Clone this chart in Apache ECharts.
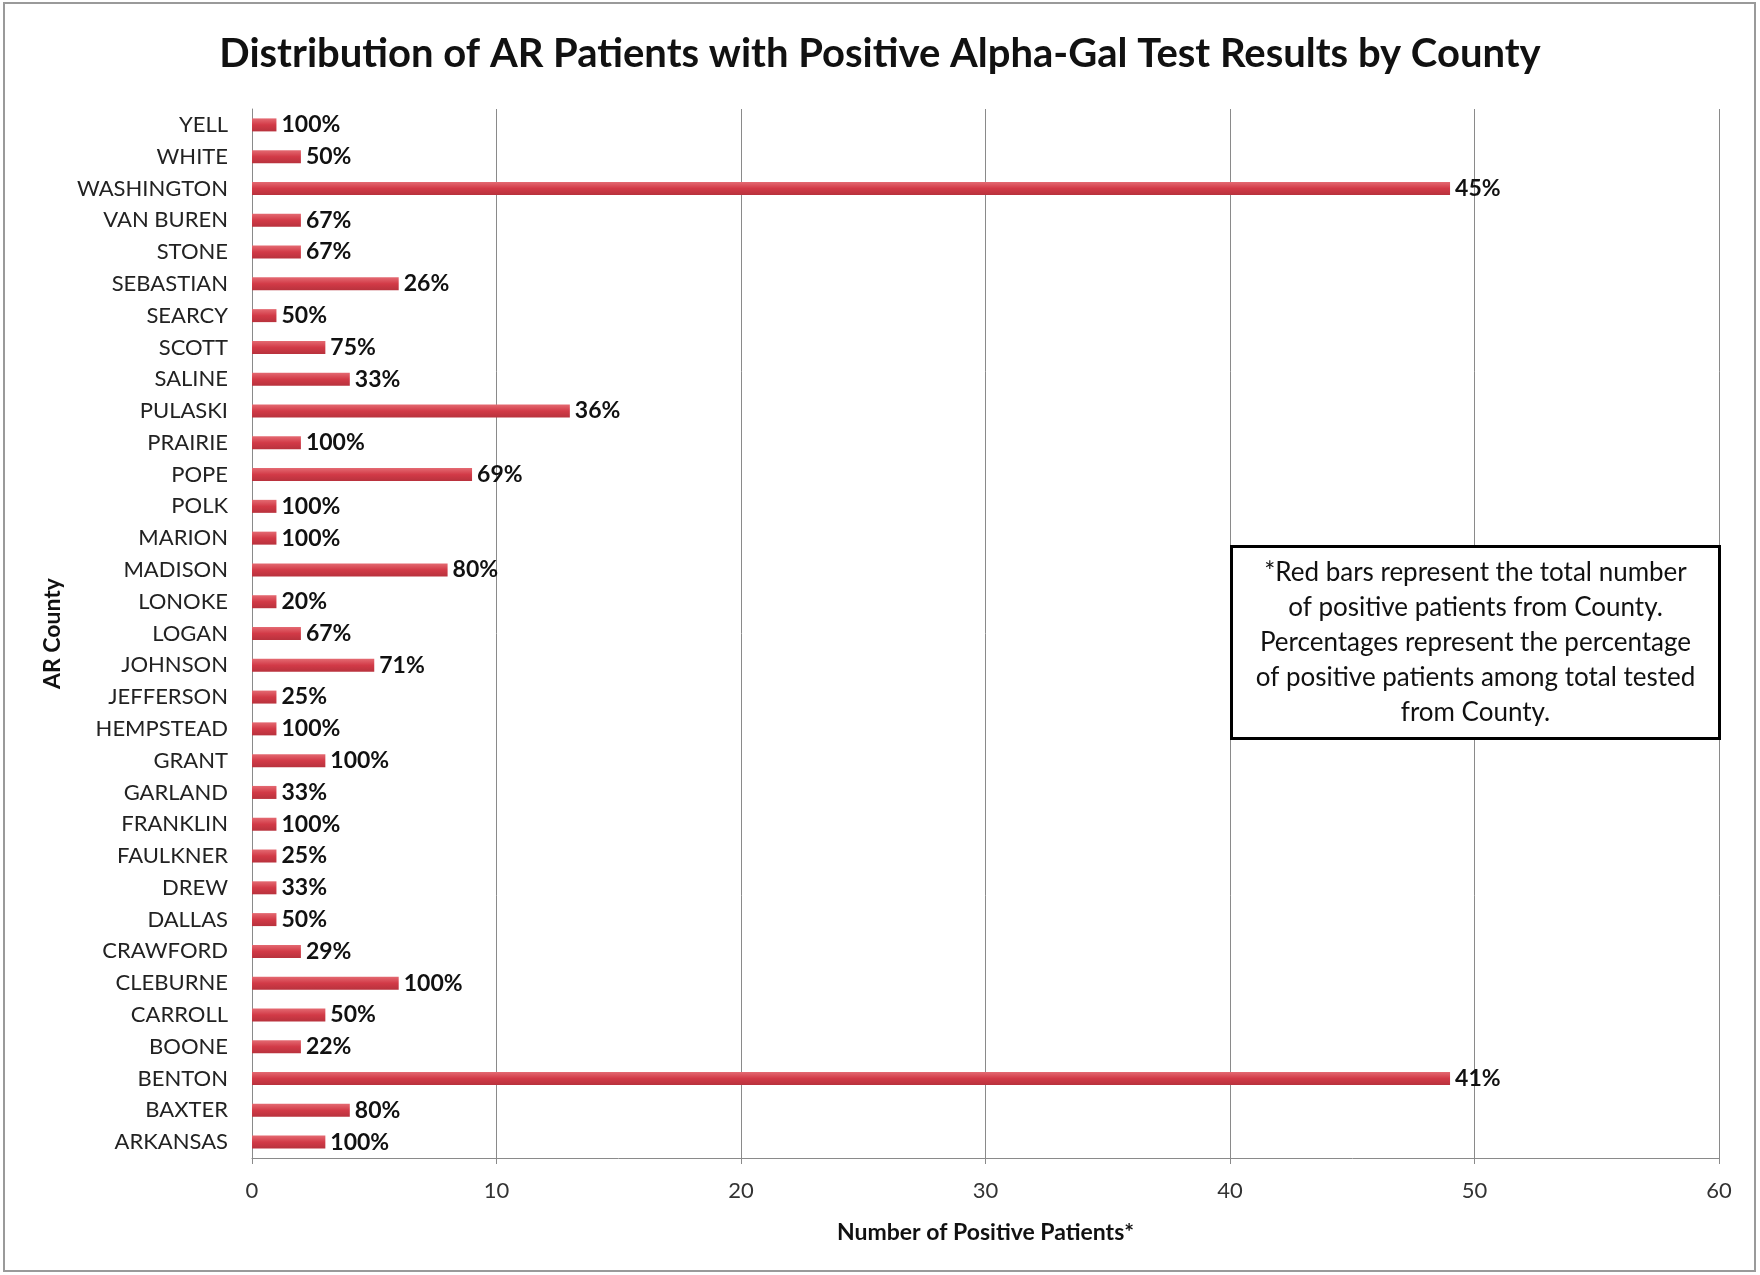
<!DOCTYPE html>
<html>
<head>
<meta charset="utf-8">
<title>Alpha-Gal by County</title>
<script src="https://cdn.jsdelivr.net/npm/echarts@6/dist/echarts.min.js"></script>
<style>
  html, body { margin: 0; padding: 0; background: #fff; }
  #chart { width: 1760px; height: 1275px; }
</style>
</head>
<body>
<div id="chart"></div>
<script>
  // counties, top to bottom as in the picture
  var counties = ['YELL', 'WHITE', 'WASHINGTON', 'VAN BUREN', 'STONE', 'SEBASTIAN', 'SEARCY', 'SCOTT',
    'SALINE', 'PULASKI', 'PRAIRIE', 'POPE', 'POLK', 'MARION', 'MADISON', 'LONOKE', 'LOGAN', 'JOHNSON',
    'JEFFERSON', 'HEMPSTEAD', 'GRANT', 'GARLAND', 'FRANKLIN', 'FAULKNER', 'DREW', 'DALLAS', 'CRAWFORD',
    'CLEBURNE', 'CARROLL', 'BOONE', 'BENTON', 'BAXTER', 'ARKANSAS']
  // number of positive patients
  var positives = [1, 2, 49, 2, 2, 6, 1, 3,
    4, 13, 2, 9, 1, 1, 8, 1, 2, 5,
    1, 1, 3, 1, 1, 1, 1, 1, 2,
    6, 3, 2, 49, 4, 3]
  // percent positive among tested
  var percents = [100, 50, 45, 67, 67, 26, 50, 75,
    33, 36, 100, 69, 100, 100, 80, 20, 67, 71,
    25, 100, 100, 33, 100, 25, 33, 50, 29,
    100, 50, 22, 41, 80, 100]
  var xTicks = [0, 10, 20, 30, 40, 50, 60]

  var noteLines = [
    '*Red bars represent the total number',
    'of positive patients from County.',
    'Percentages represent the percentage',
    'of positive patients among total tested',
    'from County.'
  ]

  var font = 'Lato, "Open Sans", sans-serif'

  function drawChart() {
    var myChart = echarts.init(document.getElementById('chart'))

    var barData = positives.map(function (v, i) {
      return { value: v, pct: percents[i] }
    })

    var option = {
      backgroundColor: '#fff',
      textStyle: { fontFamily: font },
      title: {
        text: 'Distribution of AR Patients with Positive Alpha-Gal Test Results by County',
        left: 'center',
        top: 29,
        textStyle: { fontFamily: font, fontSize: 40, fontWeight: 'bold', color: '#111' }
      },
      grid: { left: 252, right: 41, top: 109, bottom: 117 },
      xAxis: {
        type: 'value',
        min: xTicks[0],
        max: xTicks[xTicks.length - 1],
        interval: 10,
        name: 'Number of Positive Patients*',
        nameLocation: 'middle',
        nameGap: 63,
        nameTextStyle: { fontSize: 23, fontWeight: 'bold', color: '#111' },
        axisLine: { show: true, lineStyle: { color: '#8a8a8a', width: 1 } },
        axisTick: { show: true, length: 6, lineStyle: { color: '#8a8a8a' } },
        axisLabel: { fontSize: 22, color: '#333', margin: 22 },
        splitLine: { show: true, lineStyle: { color: '#8a8a8a', width: 1 } }
      },
      yAxis: {
        type: 'category',
        data: counties,
        inverse: true,
        name: 'AR County',
        nameLocation: 'middle',
        nameGap: 188,
        nameRotate: 90,
        nameTextStyle: { fontSize: 23, fontWeight: 'bold', color: '#111' },
        axisLine: { show: true, lineStyle: { color: '#8a8a8a', width: 1 } },
        axisTick: { show: false },
        axisLabel: { fontSize: 22, color: '#222', margin: 24 }
      },
      series: [{
        type: 'bar',
        data: barData,
        barWidth: 13,
        itemStyle: {
          color: new echarts.graphic.LinearGradient(0, 0, 0, 1, [
            { offset: 0, color: '#e46a72' },
            { offset: 0.5, color: '#d23a47' },
            { offset: 1, color: '#b8323d' }
          ])
        },
        label: {
          show: true,
          position: 'right',
          distance: 5,
          fontSize: 23,
          fontWeight: 'bold',
          color: '#111',
          formatter: function (p) { return p.data.pct + '%' }
        }
      }],
      graphic: [
        // thin frame round the picture
        {
          type: 'rect',
          shape: { x: 4, y: 3, width: 1751, height: 1268 },
          style: { fill: null, stroke: '#9a9a9a', lineWidth: 2 },
          silent: true
        },
        // note box, drawn over the grid lines
        {
          type: 'group',
          left: 1230,
          top: 545,
          z: 100,
          children: [
            {
              type: 'rect',
              z: 100,
              shape: { x: 0, y: 0, width: 488, height: 192 },
              style: { fill: '#fff', stroke: '#000', lineWidth: 3 }
            },
            {
              type: 'text',
              z: 101,
              x: 244,
              y: 96,
              style: {
                text: noteLines.join('\n'),
                font: '26px ' + font,
                fill: '#111',
                align: 'center',
                verticalAlign: 'middle',
                lineHeight: 35
              }
            }
          ]
        }
      ]
    }
    myChart.setOption(option)
  }

  drawChart()
</script>
</body>
</html>
